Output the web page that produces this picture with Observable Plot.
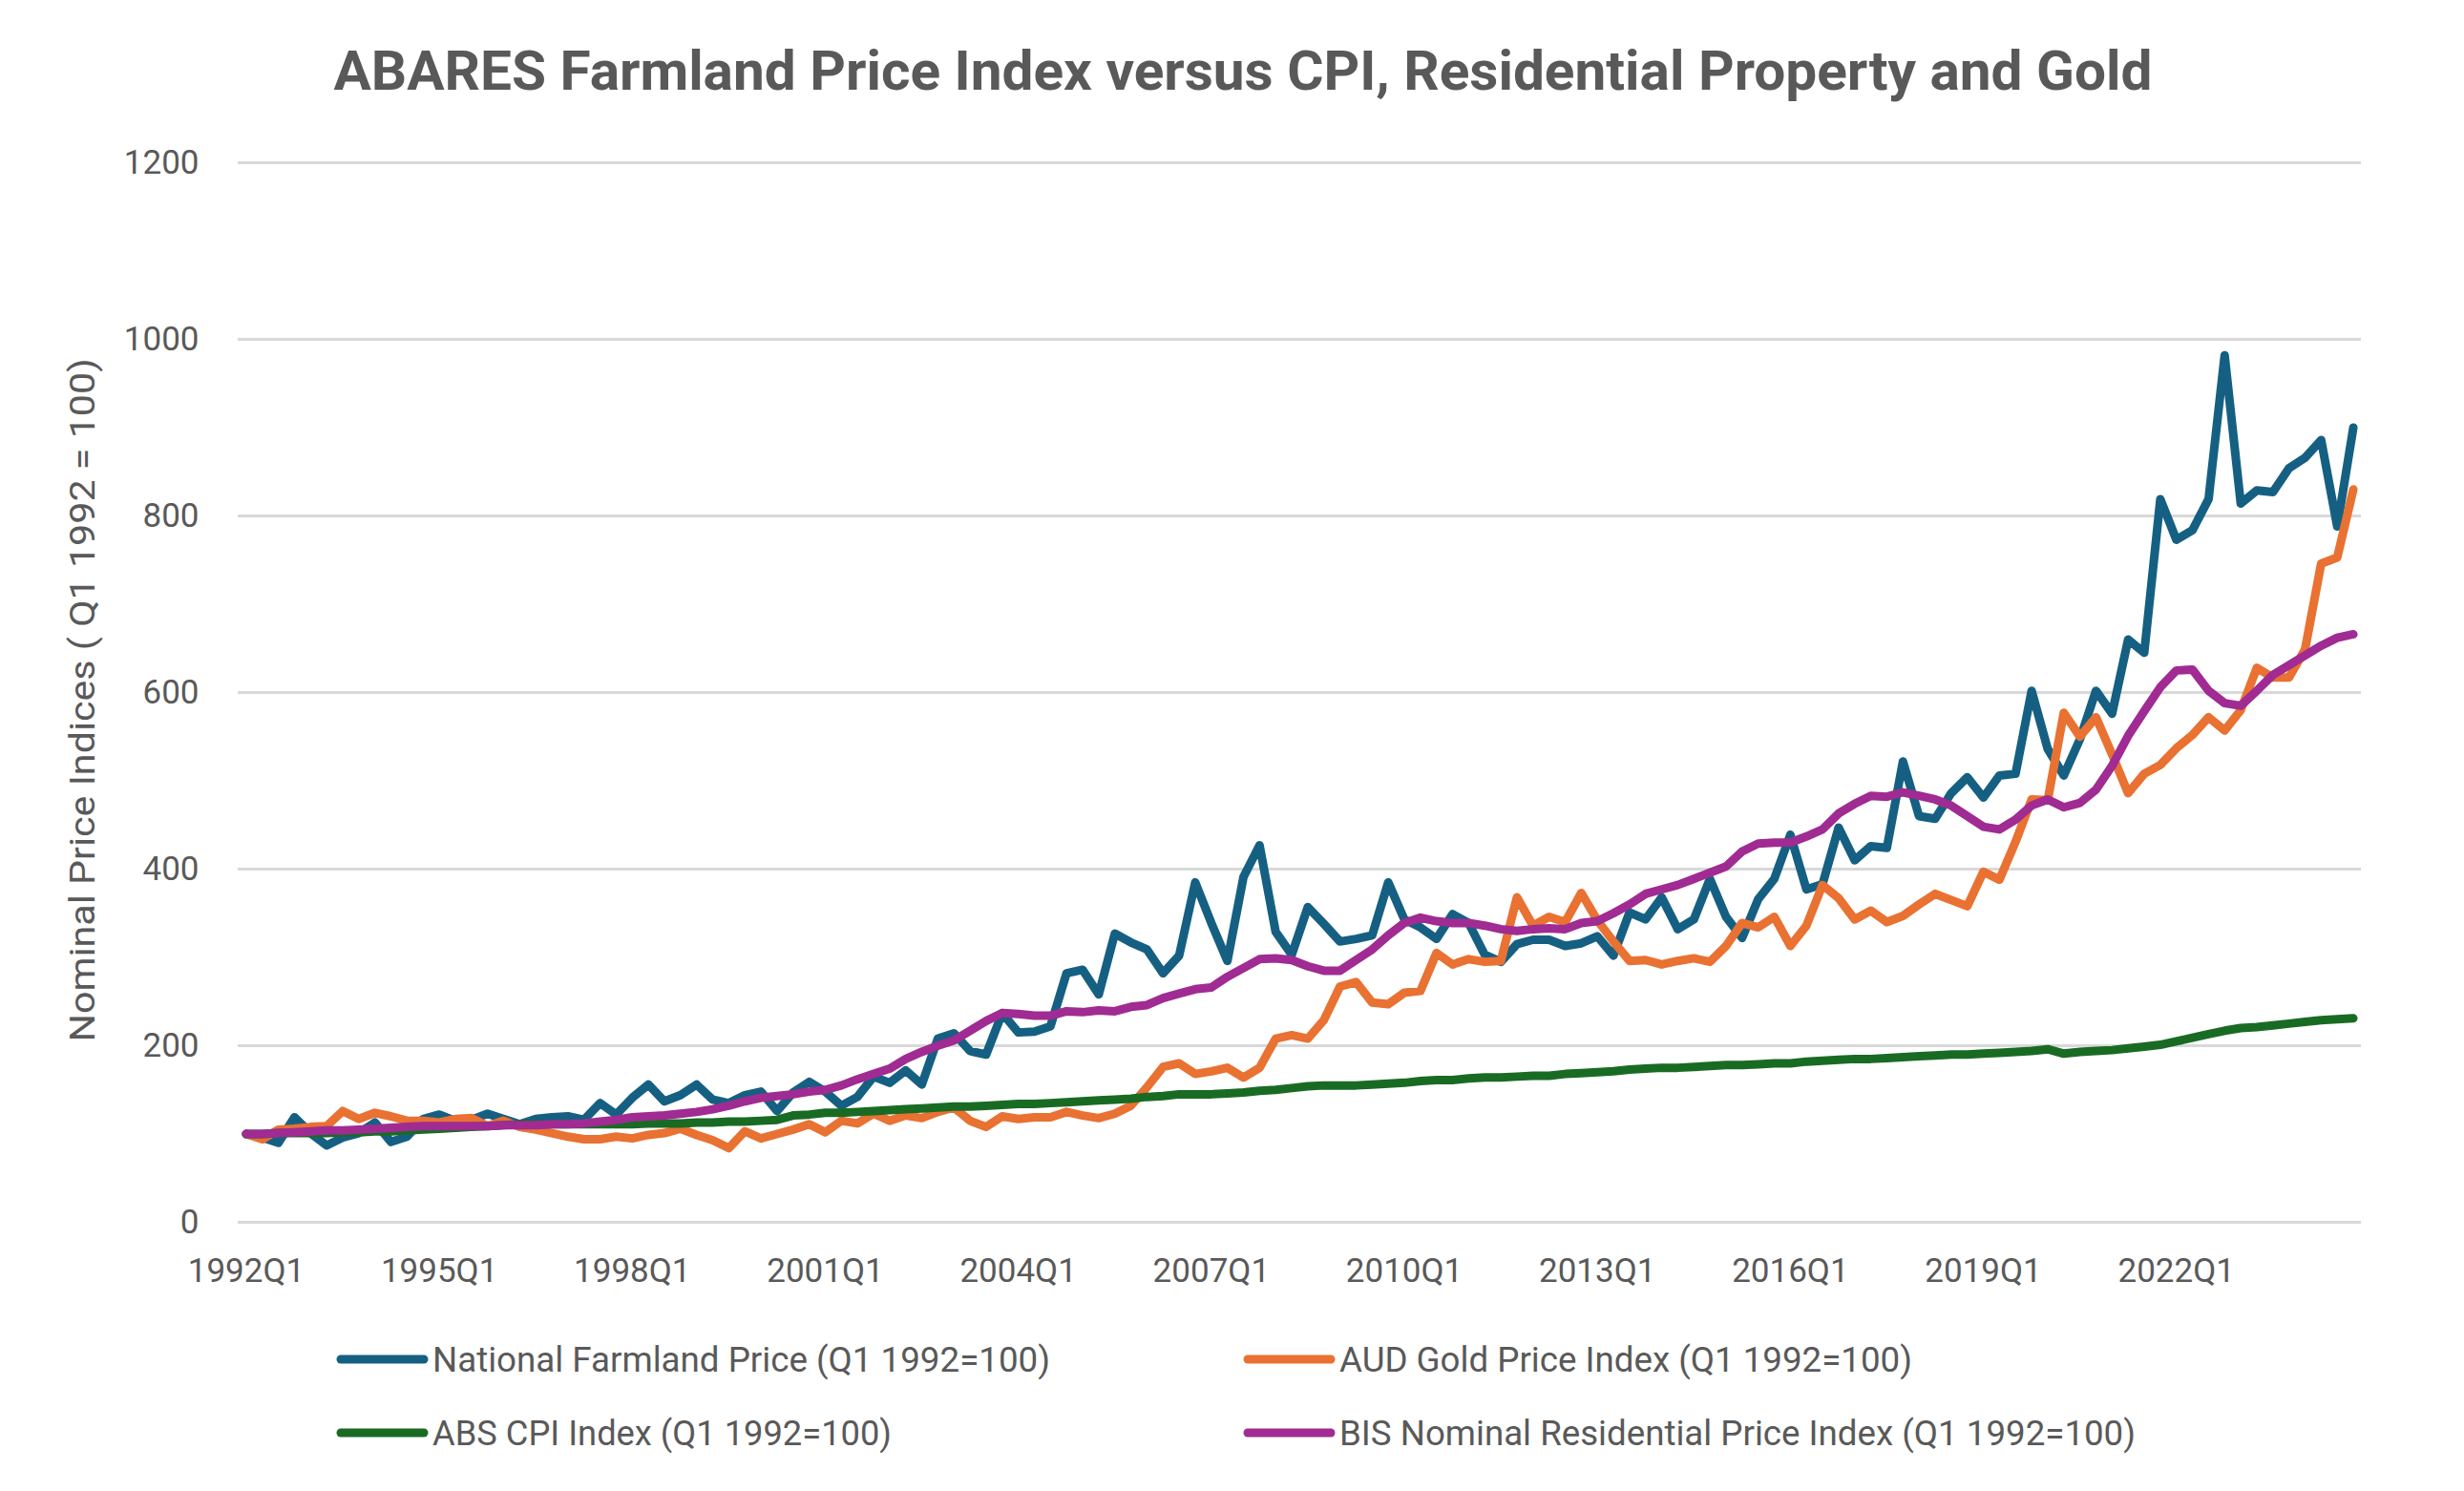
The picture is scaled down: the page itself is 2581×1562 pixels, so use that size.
<!DOCTYPE html>
<html><head><meta charset="utf-8">
<script src="https://cdn.jsdelivr.net/npm/d3@7"></script>
<script src="https://cdn.jsdelivr.net/npm/@observablehq/plot@0.6"></script>
<style>
html,body{margin:0;padding:0;background:#fff;}
#wrap{width:2581px;height:1562px;position:relative;overflow:hidden;background:#fff;}
#wrap svg{display:block;}
</style></head><body><div id="wrap"></div>
<script>
const titleText = "ABARES Farmland Price Index versus CPI, Residential Property and Gold";
const yLabelText = "Nominal Price Indices ( Q1 1992 = 100)";
const startYear = 1992;

const seriesNames = [
  "National Farmland Price (Q1 1992=100)",
  "AUD Gold Price Index (Q1 1992=100)",
  "ABS CPI Index (Q1 1992=100)",
  "BIS Nominal Residential Price Index (Q1 1992=100)"
];
const seriesColors = ["#156082", "#E97132", "#196B24", "#A02B93"];

const farmland = [
  100, 96, 90, 119, 101, 87, 96, 101, 113, 91,
  97, 117, 122, 115, 116, 123, 117, 111, 117, 119,
  120, 116, 135, 122, 141, 156, 137, 144, 156, 139,
  135, 144, 148, 126, 147, 159, 148, 132, 142, 165,
  158, 172, 156, 208, 214, 194, 190, 237, 215, 216,
  222, 282, 286, 258, 327, 317, 309, 282, 302, 385,
  339, 296, 391, 427, 329, 303, 357, 338, 318, 321,
  325, 385, 343, 334, 321, 349, 339, 303, 295, 315,
  320, 320, 313, 316, 324, 302, 351, 343, 368, 332,
  343, 389, 346, 322, 366, 389, 439, 377, 383, 447,
  410, 426, 424, 522, 460, 457, 486, 504, 481, 506,
  508, 602, 536, 506, 547, 602, 576, 660, 645, 819,
  773, 784, 819, 982, 814, 829, 827, 854, 866, 886,
  788, 900
];
const gold = [
  100, 94, 105, 106, 108, 109, 126, 117, 124, 120,
  115, 115, 113, 117, 118, 109, 115, 108, 105, 101,
  97, 94, 94, 97, 95, 99, 101, 106, 99, 93,
  84, 103, 95, 100, 105, 111, 102, 115, 112, 123,
  115, 121, 118, 125, 130, 115, 108, 120, 117, 119,
  119, 125, 121, 118, 123, 132, 153, 176, 180, 168,
  171, 175, 164, 175, 208, 212, 208, 229, 267, 272,
  249, 247, 260, 262, 305, 292, 298, 295, 296, 368,
  336, 346, 340, 373, 342, 318, 296, 297, 292, 296,
  299, 295, 313, 339, 334, 346, 313, 336, 382, 367,
  343, 353, 340, 347, 360, 372, 365, 358, 397, 388,
  431, 479, 478, 577, 550, 572, 530, 486, 508, 518,
  537, 552, 572, 557, 580, 628, 617, 617, 649, 746,
  753, 830
];
const cpi = [
  100, 100, 101, 101, 101, 101, 102, 102, 103, 103,
  104, 105, 106, 107, 108, 109, 110, 111, 111, 111,
  111, 111, 111, 111, 111, 112, 112, 112, 113, 113,
  114, 114, 115, 116, 121, 122, 124, 124, 125, 126,
  127, 128, 129, 130, 131, 131, 132, 133, 134, 134,
  135, 136, 137, 138, 139, 140, 142, 143, 145, 145,
  145, 146, 147, 149, 150, 152, 154, 155, 155, 155,
  156, 157, 158, 160, 161, 161, 163, 164, 164, 165,
  166, 166, 168, 169, 170, 171, 173, 174, 175, 175,
  176, 177, 178, 178, 179, 180, 180, 182, 183, 184,
  185, 185, 186, 187, 188, 189, 190, 190, 191, 192,
  193, 194, 196, 191, 193, 194, 195, 197, 199, 201,
  205, 209, 213, 217, 220, 221, 223, 225, 227, 229,
  230, 231
];
const bis = [
  100, 100, 101, 102, 103, 104, 104, 105, 106, 107,
  108, 109, 109, 109, 109, 109, 110, 110, 110, 111,
  111, 112, 114, 116, 119, 120, 121, 123, 125, 128,
  132, 137, 141, 143, 145, 148, 150, 155, 162, 168,
  174, 185, 193, 200, 206, 217, 228, 237, 236, 234,
  234, 239, 238, 240, 239, 244, 246, 254, 259, 264,
  266, 278, 288, 298, 299, 297, 290, 285, 285, 297,
  309, 325, 339, 345, 341, 339, 339, 336, 332, 330,
  332, 333, 332, 339, 341, 350, 360, 372, 377, 382,
  389, 396, 403, 420, 429, 430, 430, 437, 445, 463,
  474, 483, 482, 487, 483, 479, 472, 460, 448, 445,
  456, 472, 479, 470, 475, 490, 517, 551, 579, 606,
  625, 626, 602, 588, 585, 602, 620, 631, 642, 653,
  662, 666
];

const xTickLabels = ["1992Q1","1995Q1","1998Q1","2001Q1","2004Q1","2007Q1","2010Q1","2013Q1","2016Q1","2019Q1","2022Q1"];
const yTickValues = [0, 200, 400, 600, 800, 1000, 1200];

const quarters = farmland.map((_, i) => `${startYear + Math.floor(i / 4)}Q${(i % 4) + 1}`);
const allSeries = [farmland, gold, cpi, bis];
const rows = [];
allSeries.forEach((vals, s) => vals.forEach((v, i) => rows.push({quarter: quarters[i], value: v, series: seriesNames[s]})));

const wrap = document.getElementById("wrap");
const NS = "http://www.w3.org/2000/svg";
const FONT = "Roboto, 'Liberation Sans', sans-serif";
const GREY = "#595959";

// Title
const tsvg = document.createElementNS(NS, "svg");
tsvg.setAttribute("width", 2581); tsvg.setAttribute("height", 130);
const tt = document.createElementNS(NS, "text");
tt.setAttribute("x", 1302); tt.setAttribute("y", 94);
tt.setAttribute("text-anchor", "middle");
tt.setAttribute("font-family", FONT);
tt.setAttribute("font-weight", "bold");
tt.setAttribute("font-size", 57);
tt.setAttribute("fill", GREY);
tt.setAttribute("textLength", 1905);
tt.setAttribute("lengthAdjust", "spacingAndGlyphs");
tt.textContent = titleText;
tsvg.appendChild(tt);
wrap.appendChild(tsvg);

// Chart
const chart = Plot.plot({
  width: 2581,
  height: 1260,
  marginLeft: 249,
  marginRight: 108,
  marginTop: 40,
  marginBottom: 110,
  style: {fontFamily: FONT, fontSize: "35px", color: GREY, background: "transparent", overflow: "visible"},
  x: {type: "point", domain: quarters, padding: 0.5, ticks: xTickLabels, tickSize: 0, tickPadding: 38, label: null},
  y: {domain: [0, 1200], ticks: yTickValues, tickFormat: d => String(d), tickSize: 0, tickPadding: 41, label: null},
  color: {domain: seriesNames, range: seriesColors},
  marks: [
    Plot.ruleY(yTickValues, {stroke: "#d9d9d9", strokeWidth: 3}),
    ...seriesNames.map(name => Plot.line(rows.filter(d => d.series === name), {
      x: "quarter", y: "value", stroke: "series", strokeWidth: 9,
      strokeLinejoin: "round", strokeLinecap: "round"
    })),
    Plot.text([yLabelText], {text: d => d, frameAnchor: "left", textAnchor: "middle", rotate: -90, dx: -162, dy: 8, fontSize: 36, fill: GREY})
  ]
});
wrap.appendChild(chart);
// stretch the y-axis title to the reference length
chart.querySelectorAll("text").forEach(t => {
  if (t.textContent === yLabelText) {
    t.setAttribute("textLength", 716);
    t.setAttribute("lengthAdjust", "spacingAndGlyphs");
  }
});

// Legend
const legendLayout = [
  {sx: 353, y: 34, tl: 647},
  {sx: 1303, y: 34, tl: 600},
  {sx: 353, y: 111, tl: 481},
  {sx: 1303, y: 111, tl: 834}
];
const lsvg = document.createElementNS(NS, "svg");
lsvg.setAttribute("width", 2581); lsvg.setAttribute("height", 172);
seriesNames.forEach((name, i) => {
  const L = legendLayout[i];
  const ln = document.createElementNS(NS, "line");
  ln.setAttribute("x1", L.sx + 4); ln.setAttribute("x2", L.sx + 91);
  ln.setAttribute("y1", L.y); ln.setAttribute("y2", L.y);
  ln.setAttribute("stroke", seriesColors[i]);
  ln.setAttribute("stroke-width", 9);
  ln.setAttribute("stroke-linecap", "round");
  lsvg.appendChild(ln);
  const tx = document.createElementNS(NS, "text");
  tx.setAttribute("x", L.sx + 100); tx.setAttribute("y", L.y);
  tx.setAttribute("dy", "0.35em");
  tx.setAttribute("font-family", FONT);
  tx.setAttribute("font-size", 36);
  tx.setAttribute("fill", GREY);
  tx.setAttribute("textLength", L.tl);
  tx.setAttribute("lengthAdjust", "spacingAndGlyphs");
  tx.textContent = name;
  lsvg.appendChild(tx);
});
wrap.appendChild(lsvg);
</script>
</body></html>
